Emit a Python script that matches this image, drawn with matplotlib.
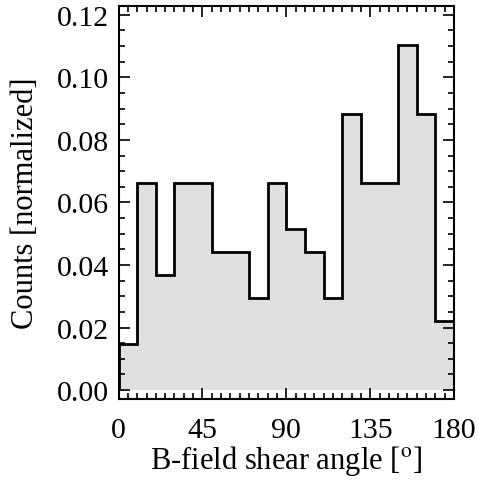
import numpy as np
import matplotlib.pyplot as plt
from matplotlib.ticker import MultipleLocator

# bin edges (degrees) and normalized counts
bin_edges = np.arange(0, 181, 10)
counts = [0.0147, 0.0662, 0.0368, 0.0662, 0.0662, 0.0441, 0.0441, 0.0294, 0.0662,
          0.0515, 0.0441, 0.0294, 0.0882, 0.0662, 0.0662, 0.1103, 0.0882, 0.0221]
x_ticks = [0, 45, 90, 135, 180]
y_ticks = [0.00, 0.02, 0.04, 0.06, 0.08, 0.10, 0.12]

plt.rcParams['font.family'] = ['Liberation Serif', 'DejaVu Serif']
plt.rcParams['mathtext.fontset'] = 'stix'

fig = plt.figure(figsize=(4.78, 4.81), dpi=100)
ax = fig.add_axes([0.248, 0.168, 0.702, 0.818])

ax.stairs(counts, bin_edges, fill=True, color='#e0e0e0', zorder=1)
ax.stairs(counts, bin_edges, color='black', linewidth=2.0, zorder=2)

ax.set_xlim(0, 180)
ax.set_ylim(-0.0029, 0.1229)
ax.set_xticks(x_ticks)
ax.set_yticks(y_ticks)
ax.set_yticklabels([f"{v:.2f}" for v in y_ticks])
ax.xaxis.set_minor_locator(MultipleLocator(5))
ax.yaxis.set_minor_locator(MultipleLocator(0.005))
ax.tick_params(which='both', direction='in', top=True, right=True, width=1.2)
ax.tick_params(which='major', length=8, labelsize=21.5)
ax.tick_params(axis='y', which='major', pad=7)
ax.tick_params(axis='x', which='major', pad=13)
ax.tick_params(which='minor', length=4)
for s in ax.spines.values():
    s.set_linewidth(1.5)

ax.set_xlabel("B-field shear angle [$^\\mathrm{o}$]", fontsize=22, labelpad=0)
ax.set_ylabel("Counts [normalized]", fontsize=22, labelpad=12)

fig.savefig("out.png", dpi=100)
